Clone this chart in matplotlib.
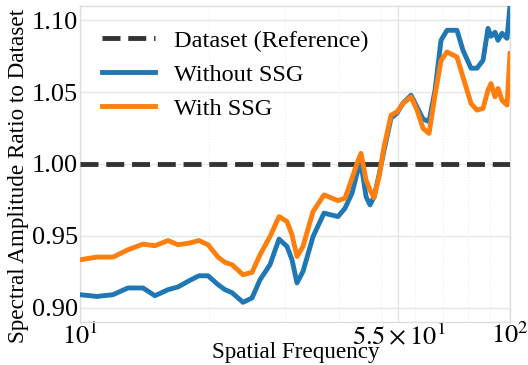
import matplotlib
matplotlib.use('Agg')
import matplotlib.pyplot as plt
import matplotlib.ticker as mticker
import numpy as np

plt.rcParams['font.family'] = ['Liberation Serif', 'DejaVu Serif']
plt.rcParams['mathtext.fontset'] = 'stix'

# spatial frequency samples
freq = [10.00, 10.95, 11.93, 12.93, 14.01, 14.94, 16.02, 16.90, 17.93, 18.91,
        19.85, 20.94, 21.74, 22.57, 23.94, 25.12, 26.22, 27.66, 29.03, 30.30,
        31.12, 31.96, 33.01, 34.83, 36.94, 39.81, 41.33, 42.92, 44.08, 45.03,
        46.26, 47.26, 48.28, 49.60, 50.95, 52.89, 54.61, 56.39, 58.87, 60.79,
        62.77, 64.82, 66.93, 69.11, 71.36, 75.28, 77.74, 81.15, 83.81, 86.55,
        88.89, 90.33, 92.29, 93.78, 95.81, 98.41, 100.0]

without_ssg = [0.9090, 0.9078, 0.9090, 0.9137, 0.9137, 0.9083, 0.9125, 0.9144, 0.9187, 0.9222,
               0.9222, 0.9160, 0.9125, 0.9104, 0.9037, 0.9067, 0.9194, 0.9299, 0.9477, 0.9426,
               0.9333, 0.9172, 0.9252, 0.9495, 0.9658, 0.9634, 0.9692, 0.9797, 0.9935, 1.0005,
               0.9773, 0.9715, 0.9771, 0.9924, 1.0097, 1.0319, 1.0354, 1.0424, 1.0479, 1.0396,
               1.0313, 1.0295, 1.0514, 1.0861, 1.0931, 1.0931, 1.0792, 1.0667, 1.0667, 1.0722,
               1.0944, 1.0889, 1.0917, 1.0861, 1.0910, 1.0875, 1.1104]

with_ssg = [0.9333, 0.9352, 0.9352, 0.9403, 0.9442, 0.9431, 0.9467, 0.9438, 0.9449, 0.9467,
            0.9438, 0.9352, 0.9315, 0.9299, 0.9229, 0.9245, 0.9368, 0.9495, 0.9634, 0.9599,
            0.9507, 0.9356, 0.9426, 0.9669, 0.9785, 0.9745, 0.9762, 0.9901, 1.0005, 1.0074,
            0.9889, 0.9819, 0.9764, 0.9912, 1.0120, 1.0340, 1.0363, 1.0422, 1.0467, 1.0375,
            1.0248, 1.0213, 1.0480, 1.0720, 1.0780, 1.0745, 1.0606, 1.0422, 1.0375, 1.0387,
            1.0514, 1.0560, 1.0467, 1.0526, 1.0444, 1.0410, 1.0769]

xticks = [10, 55, 100]
xticklabels = [r'$10^{1}$', r'$5.5\times10^{1}$', r'$10^{2}$']
yticks = [0.90, 0.95, 1.00, 1.05, 1.10]

fig = plt.figure(figsize=(5.28, 3.65), dpi=100)
ax = fig.add_axes([80/528, 1-322/365, 430/528, 316/365])

ax.axhline(1.0, color='#333333', lw=3.5, ls='--', label='Dataset (Reference)', zorder=3)
ax.plot(freq, without_ssg, color='#1f77b4', lw=3.5, label='Without SSG', zorder=4)
ax.plot(freq, with_ssg, color='#ff7f0e', lw=3.5, label='With SSG', zorder=5)

ax.set_xscale('log')
ax.set_xlim(10, 100)
ax.set_ylim(0.89, 1.11)
ax.xaxis.set_major_locator(mticker.FixedLocator(xticks))
ax.xaxis.set_major_formatter(mticker.FixedFormatter(xticklabels))
ax.xaxis.set_minor_locator(mticker.LogLocator(base=10, subs=np.arange(2, 10)))
ax.xaxis.set_minor_formatter(mticker.NullFormatter())
ax.set_yticks(yticks)
ax.set_yticklabels([f'{v:.2f}' for v in yticks])

ax.grid(True, which='major', color='#e6e6e6', lw=1.0)
ax.grid(True, which='minor', axis='x', color='#eeeeee', lw=0.8, ls=':')
ax.tick_params(which='both', length=0, labelsize=19)
ax.tick_params(axis='x', pad=0.5)
ax.tick_params(axis='y', pad=1.5)
for s in ax.spines.values():
    s.set_color('#dddddd')
    s.set_linewidth(1.0)

ax.set_xlabel('Spatial Frequency', fontsize=16.7)
ax.xaxis.set_label_coords(0.503, -0.064)
ax.set_ylabel('Spectral Amplitude Ratio to Dataset', fontsize=16.7)
ax.yaxis.set_label_coords(-0.119, 0.462)

ax.legend(loc='upper left', bbox_to_anchor=(0.028, 0.956), fontsize=17.5,
          frameon=False, handlelength=2.18, handletextpad=0.78,
          borderaxespad=0, labelspacing=0.5)

fig.savefig('out.png', dpi=100)
